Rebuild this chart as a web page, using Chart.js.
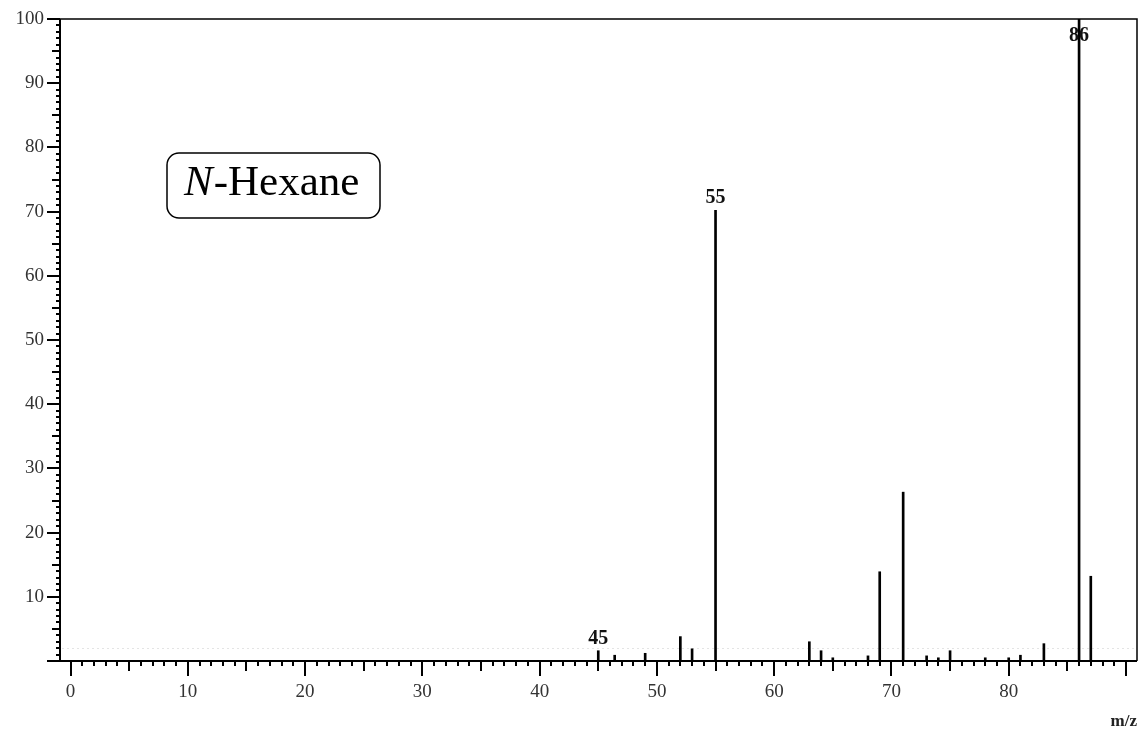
<!DOCTYPE html>
<html>
<head>
<meta charset="utf-8">
<title>N-Hexane mass spectrum</title>
<script src="https://cdn.jsdelivr.net/npm/chart.js@4.4.1/dist/chart.umd.min.js"></script>
<style>
html,body{margin:0;padding:0;background:#fff;}
#wrap{width:1143px;height:732px;position:relative;}
</style>
</head>
<body>
<div id="wrap"><canvas id="spectrumChart"></canvas></div>
<script>

// =====================================
// Spectrum data
// =====================================

const mzValues=[45,46.4,49,52,53,55,63,64,65,68,69,71,73,74,75,78,80,81,83,86,87];

const intensities=[1.6,0.9,1.2,3.8,1.9,70.2,3.0,1.6,0.5,0.8,13.9,26.3,0.8,0.5,1.6,0.5,0.5,0.9,2.7,100,13.2];

const labelledPeaks=[45,55,86];

const xTickLabels=[0,10,20,30,40,50,60,70,80];

const yTickLabels=[10,20,30,40,50,60,70,80,90,100];

const compoundName="-Hexane";

const axisFont="'Liberation Serif', 'DejaVu Serif', serif";


// =====================================
// Axis frame, minor ticks, peak labels, name box
// =====================================

function line(ctx,x1,y1,x2,y2){

    ctx.beginPath();
    ctx.moveTo(x1,y1);
    ctx.lineTo(x2,y2);
    ctx.stroke();

}

const spectrumDecor={

    id:"spectrumDecor",

    beforeDatasetsDraw(chart){

        const {ctx,chartArea:a,scales:{y}}=chart;

        // faint dotted baseline just above the axis
        ctx.save();
        ctx.strokeStyle="#e4e4e4";
        ctx.lineWidth=1;
        ctx.setLineDash([2,3]);
        const py=Math.round(y.getPixelForValue(2))+0.5;
        line(ctx,a.left+2,py,a.right,py);
        ctx.restore();

    },

    afterDatasetsDraw(chart){

        const {ctx,chartArea:a,scales:{x,y}}=chart;

        ctx.save();

        ctx.strokeStyle="#000";

        // top and right border
        ctx.lineWidth=1.5;
        ctx.beginPath();
        ctx.moveTo(a.left,a.top);
        ctx.lineTo(a.right,a.top);
        ctx.lineTo(a.right,a.bottom);
        ctx.stroke();

        // axis lines
        ctx.lineWidth=2;
        line(ctx,a.left,a.top,a.left,a.bottom+1);
        line(ctx,a.left-13,a.bottom,a.right,a.bottom);

        // x ticks every 1 m/z
        for(let v=Math.ceil(x.min);v<=Math.floor(x.max);v++){

            const px=Math.round(x.getPixelForValue(v));
            const len=v%10===0?15:(v%5===0?10:5);
            line(ctx,px,a.bottom-1,px,a.bottom+len);

        }

        // y ticks every 1 %
        for(let v=1;v<=100;v++){

            const py=Math.round(y.getPixelForValue(v));
            const len=v%10===0?13:(v%5===0?8:4);
            line(ctx,a.left-len,py,a.left,py);

        }

        // peak labels
        ctx.fillStyle="#111";
        ctx.font="bold 20px "+axisFont;
        ctx.textAlign="center";
        ctx.textBaseline="alphabetic";

        labelledPeaks.forEach(mz=>{

            const i=mzValues.indexOf(mz);
            const px=x.getPixelForValue(mz);
            const top=y.getPixelForValue(intensities[i]);
            ctx.fillText(String(mz),px,Math.max(top-7,a.top+22));

        });

        // compound name box
        const bx=167,by=153,bw=213,bh=65,r=12;
        ctx.lineWidth=1.5;
        ctx.beginPath();
        ctx.roundRect(bx,by,bw,bh,r);
        ctx.stroke();

        ctx.fillStyle="#000";
        ctx.textAlign="left";
        ctx.font="italic 43px "+axisFont;
        ctx.fillText("N",184,195);
        const nw=ctx.measureText("N").width;
        ctx.font="43px "+axisFont;
        ctx.fillText(compoundName,184+nw+1,195);

        ctx.restore();

    }

};


// =====================================
// Chart
// =====================================

const spectrumChart=new Chart(

    document.getElementById("spectrumChart"),

    {

        type:"bar",

        data:{

            datasets:[{

                label:"Intensity",

                data:mzValues.map((mz,i)=>({x:mz,y:intensities[i]})),

                backgroundColor:"#000",

                barThickness:2

            }]

        },

        options:{

            responsive:true,

            maintainAspectRatio:false,

            animation:false,

            layout:{

                padding:{left:0,top:19,right:6,bottom:0}

            },

            plugins:{

                legend:{display:false},

                tooltip:{enabled:false}

            },

            scales:{

                x:{

                    type:"linear",

                    min:-0.9,

                    max:90.94,

                    offset:false,

                    grid:{display:false,drawTicks:false},

                    border:{display:false},

                    ticks:{

                        stepSize:10,

                        includeBounds:false,

                        autoSkip:false,

                        maxRotation:0,

                        padding:20,

                        color:"#333",

                        font:{family:axisFont,size:19},

                        callback:(v)=>xTickLabels.includes(v)?String(v):""

                    },

                    title:{

                        display:true,

                        text:"m/z",

                        align:"end",

                        color:"#222",

                        font:{family:axisFont,size:17,weight:"bold"},

                        padding:{top:0,bottom:0}

                    },

                    afterFit:(scale)=>{

                        scale.height=71;
                        scale.paddingLeft=0;
                        scale.paddingRight=0;

                    }

                },

                y:{

                    min:0,

                    max:100,

                    grid:{display:false,drawTicks:false},

                    border:{display:false},

                    ticks:{

                        stepSize:10,

                        padding:16,

                        color:"#333",

                        font:{family:axisFont,size:19},

                        callback:(v)=>yTickLabels.includes(v)?String(v):""

                    },

                    afterFit:(scale)=>{

                        scale.width=60;
                        scale.paddingTop=0;
                        scale.paddingBottom=0;

                    }

                }

            }

        },

        plugins:[spectrumDecor]

    }

);

</script>
</body>
</html>
